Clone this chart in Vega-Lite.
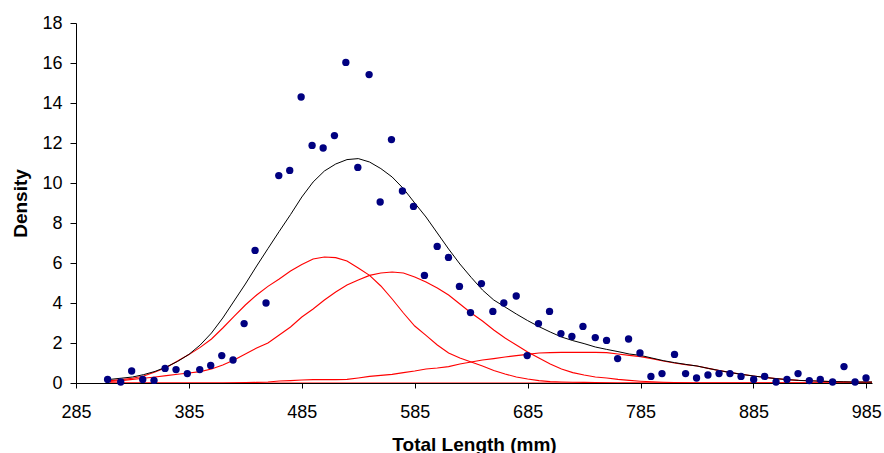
{
  "$schema": "https://vega.github.io/schema/vega-lite/v6.json",
  "width": 796,
  "height": 360,
  "autosize": {"type": "none"},
  "padding": {"left": 76, "top": 23, "right": 12, "bottom": 70},
  "background": "white",
  "config": {
    "view": {"stroke": null},
    "font": "Liberation Sans",
    "axis": {
      "grid": false,
      "domainColor": "black",
      "tickColor": "black",
      "labelColor": "black",
      "titleColor": "black",
      "labelFont": "Liberation Sans",
      "titleFont": "Liberation Sans",
      "labelFontSize": 18,
      "titleFontSize": 19,
      "titleFontWeight": "bold",
      "domainWidth": 1,
      "tickWidth": 1
    }
  },
  "datasets": {
    "dots": [
      {"x": 313, "y": 0.18}, {"x": 324.6, "y": 0.05}, {"x": 334.3, "y": 0.6}, {"x": 344.1, "y": 0.18},
      {"x": 354.1, "y": 0.13}, {"x": 363.9, "y": 0.73}, {"x": 373.6, "y": 0.67}, {"x": 383.6, "y": 0.47},
      {"x": 394.6, "y": 0.67}, {"x": 404.3, "y": 0.88}, {"x": 414.1, "y": 1.37}, {"x": 424.1, "y": 1.15},
      {"x": 433.9, "y": 2.97}, {"x": 443.6, "y": 6.63}, {"x": 453.3, "y": 4.0}, {"x": 464.6, "y": 10.37},
      {"x": 474.3, "y": 10.63}, {"x": 484.4, "y": 14.3}, {"x": 494.1, "y": 11.88}, {"x": 503.9, "y": 11.75},
      {"x": 513.9, "y": 12.37}, {"x": 524, "y": 16.03}, {"x": 534.6, "y": 10.78}, {"x": 544.6, "y": 15.42},
      {"x": 554.4, "y": 9.05}, {"x": 564.4, "y": 12.17}, {"x": 574.1, "y": 9.6}, {"x": 583.9, "y": 8.83},
      {"x": 593.6, "y": 5.38}, {"x": 604.9, "y": 6.83}, {"x": 614.9, "y": 6.28}, {"x": 624.6, "y": 4.83},
      {"x": 634.4, "y": 3.52}, {"x": 644.1, "y": 4.97}, {"x": 654.2, "y": 3.58}, {"x": 663.9, "y": 4.0},
      {"x": 674.9, "y": 4.35}, {"x": 684.6, "y": 1.37}, {"x": 694.6, "y": 2.97}, {"x": 704.4, "y": 3.58},
      {"x": 714.5, "y": 2.47}, {"x": 724.2, "y": 2.33}, {"x": 734, "y": 2.83}, {"x": 744.9, "y": 2.27},
      {"x": 754.9, "y": 2.13}, {"x": 764.7, "y": 1.22}, {"x": 774.4, "y": 2.2}, {"x": 784.5, "y": 1.5},
      {"x": 794.2, "y": 0.33}, {"x": 804, "y": 0.47}, {"x": 815.1, "y": 1.43}, {"x": 824.9, "y": 0.47},
      {"x": 834.6, "y": 0.25}, {"x": 844.7, "y": 0.4}, {"x": 854.5, "y": 0.47}, {"x": 864.2, "y": 0.47},
      {"x": 874, "y": 0.33}, {"x": 885.2, "y": 0.18}, {"x": 894.9, "y": 0.33}, {"x": 905, "y": 0.05},
      {"x": 914.7, "y": 0.18}, {"x": 924.5, "y": 0.47}, {"x": 934.5, "y": 0.12}, {"x": 944.2, "y": 0.18},
      {"x": 955.1, "y": 0.05}, {"x": 965.2, "y": 0.82}, {"x": 975, "y": 0.05}, {"x": 984.7, "y": 0.25}
    ],
    "curves": [
      {"x": 315, "total": 0.18, "c1": 0.12, "c2": 0.08, "c3": 0, "c4": 0},
      {"x": 325, "total": 0.24, "c1": 0.17, "c2": 0.12, "c3": 0, "c4": 0},
      {"x": 335, "total": 0.3, "c1": 0.24, "c2": 0.18, "c3": 0, "c4": 0},
      {"x": 345, "total": 0.42, "c1": 0.35, "c2": 0.24, "c3": 0, "c4": 0},
      {"x": 355, "total": 0.58, "c1": 0.55, "c2": 0.3, "c3": 0, "c4": 0},
      {"x": 365, "total": 0.8, "c1": 0.78, "c2": 0.37, "c3": 0, "c4": 0},
      {"x": 375, "total": 1.08, "c1": 1.1, "c2": 0.44, "c3": 0, "c4": 0},
      {"x": 385, "total": 1.43, "c1": 1.42, "c2": 0.5, "c3": 0, "c4": 0},
      {"x": 395, "total": 1.9, "c1": 1.78, "c2": 0.57, "c3": 0, "c4": 0},
      {"x": 405, "total": 2.5, "c1": 2.2, "c2": 0.7, "c3": 0, "c4": 0},
      {"x": 415, "total": 3.25, "c1": 2.75, "c2": 0.9, "c3": 0, "c4": 0},
      {"x": 425, "total": 4.1, "c1": 3.33, "c2": 1.15, "c3": 0.01, "c4": 0},
      {"x": 435, "total": 4.95, "c1": 3.9, "c2": 1.45, "c3": 0.02, "c4": 0},
      {"x": 445, "total": 5.85, "c1": 4.4, "c2": 1.75, "c3": 0.03, "c4": 0},
      {"x": 455, "total": 6.72, "c1": 4.83, "c2": 2.0, "c3": 0.05, "c4": 0},
      {"x": 465, "total": 7.58, "c1": 5.2, "c2": 2.4, "c3": 0.1, "c4": 0},
      {"x": 475, "total": 8.42, "c1": 5.6, "c2": 2.8, "c3": 0.12, "c4": 0},
      {"x": 485, "total": 9.3, "c1": 5.92, "c2": 3.3, "c3": 0.15, "c4": 0},
      {"x": 495, "total": 10.05, "c1": 6.2, "c2": 3.7, "c3": 0.17, "c4": 0},
      {"x": 505, "total": 10.6, "c1": 6.3, "c2": 4.15, "c3": 0.17, "c4": 0},
      {"x": 515, "total": 10.95, "c1": 6.27, "c2": 4.55, "c3": 0.17, "c4": 0},
      {"x": 525, "total": 11.17, "c1": 6.1, "c2": 4.9, "c3": 0.18, "c4": 0},
      {"x": 535, "total": 11.22, "c1": 5.75, "c2": 5.15, "c3": 0.25, "c4": 0},
      {"x": 545, "total": 11.05, "c1": 5.38, "c2": 5.38, "c3": 0.33, "c4": 0},
      {"x": 555, "total": 10.72, "c1": 4.85, "c2": 5.5, "c3": 0.38, "c4": 0},
      {"x": 565, "total": 10.3, "c1": 4.2, "c2": 5.55, "c3": 0.43, "c4": 0},
      {"x": 575, "total": 9.72, "c1": 3.5, "c2": 5.5, "c3": 0.52, "c4": 0},
      {"x": 585, "total": 9.0, "c1": 2.85, "c2": 5.3, "c3": 0.6, "c4": 0},
      {"x": 595, "total": 8.3, "c1": 2.38, "c2": 5.05, "c3": 0.7, "c4": 0},
      {"x": 605, "total": 7.5, "c1": 1.9, "c2": 4.75, "c3": 0.75, "c4": 0},
      {"x": 615, "total": 6.7, "c1": 1.5, "c2": 4.4, "c3": 0.82, "c4": 0},
      {"x": 625, "total": 5.95, "c1": 1.25, "c2": 3.95, "c3": 0.95, "c4": 0},
      {"x": 635, "total": 5.28, "c1": 1.05, "c2": 3.5, "c3": 1.05, "c4": 0},
      {"x": 645, "total": 4.65, "c1": 0.85, "c2": 3.1, "c3": 1.15, "c4": 0},
      {"x": 655, "total": 4.15, "c1": 0.62, "c2": 2.65, "c3": 1.22, "c4": 0},
      {"x": 665, "total": 3.8, "c1": 0.45, "c2": 2.25, "c3": 1.3, "c4": 0},
      {"x": 675, "total": 3.45, "c1": 0.3, "c2": 1.9, "c3": 1.37, "c4": 0},
      {"x": 685, "total": 3.12, "c1": 0.2, "c2": 1.55, "c3": 1.43, "c4": 0},
      {"x": 695, "total": 2.82, "c1": 0.12, "c2": 1.25, "c3": 1.5, "c4": 0},
      {"x": 705, "total": 2.55, "c1": 0.07, "c2": 0.95, "c3": 1.52, "c4": 0},
      {"x": 715, "total": 2.3, "c1": 0.05, "c2": 0.7, "c3": 1.53, "c4": 0},
      {"x": 725, "total": 2.12, "c1": 0.04, "c2": 0.52, "c3": 1.53, "c4": 0},
      {"x": 735, "total": 1.97, "c1": 0.03, "c2": 0.4, "c3": 1.53, "c4": 0},
      {"x": 745, "total": 1.8, "c1": 0.02, "c2": 0.3, "c3": 1.53, "c4": 0},
      {"x": 755, "total": 1.68, "c1": 0.01, "c2": 0.25, "c3": 1.52, "c4": 0},
      {"x": 765, "total": 1.57, "c1": 0, "c2": 0.18, "c3": 1.45, "c4": 0},
      {"x": 775, "total": 1.45, "c1": 0, "c2": 0.13, "c3": 1.38, "c4": 0},
      {"x": 785, "total": 1.38, "c1": 0, "c2": 0.09, "c3": 1.32, "c4": 0},
      {"x": 795, "total": 1.25, "c1": 0, "c2": 0.06, "c3": 1.22, "c4": 0},
      {"x": 805, "total": 1.12, "c1": 0, "c2": 0.04, "c3": 1.1, "c4": 0},
      {"x": 815, "total": 1.02, "c1": 0, "c2": 0.02, "c3": 1.0, "c4": 0},
      {"x": 825, "total": 0.93, "c1": 0, "c2": 0.01, "c3": 0.92, "c4": 0},
      {"x": 835, "total": 0.85, "c1": 0, "c2": 0, "c3": 0.85, "c4": 0},
      {"x": 845, "total": 0.73, "c1": 0, "c2": 0, "c3": 0.73, "c4": 0},
      {"x": 855, "total": 0.62, "c1": 0, "c2": 0, "c3": 0.62, "c4": 0},
      {"x": 865, "total": 0.52, "c1": 0, "c2": 0, "c3": 0.52, "c4": 0},
      {"x": 875, "total": 0.43, "c1": 0, "c2": 0, "c3": 0.43, "c4": 0},
      {"x": 885, "total": 0.35, "c1": 0, "c2": 0, "c3": 0.35, "c4": 0},
      {"x": 895, "total": 0.28, "c1": 0, "c2": 0, "c3": 0.28, "c4": 0},
      {"x": 905, "total": 0.22, "c1": 0, "c2": 0, "c3": 0.22, "c4": 0},
      {"x": 915, "total": 0.17, "c1": 0, "c2": 0, "c3": 0.17, "c4": 0},
      {"x": 925, "total": 0.13, "c1": 0, "c2": 0, "c3": 0.13, "c4": 0},
      {"x": 935, "total": 0.11, "c1": 0, "c2": 0, "c3": 0.11, "c4": 0},
      {"x": 945, "total": 0.09, "c1": 0, "c2": 0, "c3": 0.09, "c4": 0},
      {"x": 955, "total": 0.07, "c1": 0, "c2": 0, "c3": 0.07, "c4": 0},
      {"x": 965, "total": 0.06, "c1": 0, "c2": 0, "c3": 0.06, "c4": 0},
      {"x": 975, "total": 0.05, "c1": 0, "c2": 0, "c3": 0.05, "c4": 0},
      {"x": 985, "total": 0.05, "c1": 0, "c2": 0, "c3": 0.05, "c4": 0},
      {"x": 990, "total": 0.05, "c1": 0, "c2": 0, "c3": 0.05, "c4": 0}
    ]
  },
  "encoding": {
    "x": {
      "type": "quantitative",
      "scale": {"domain": [285, 990], "nice": false, "zero": false},
      "axis": {
        "title": "Total Length (mm)",
        "values": [285, 385, 485, 585, 685, 785, 885, 985],
        "tickSize": 5,
        "labelPadding": 15,
        "labelFlush": false,
        "labelOverlap": false,
        "titleBaseline": "alphabetic",
        "titleY": 67,
        "titleX": 398
      }
    },
    "y": {
      "type": "quantitative",
      "scale": {"domain": [0, 18], "nice": false},
      "axis": {
        "title": "Density",
        "values": [0, 2, 4, 6, 8, 10, 12, 14, 16, 18],
        "tickSize": 6,
        "labelPadding": 8,
        "titleBaseline": "alphabetic",
        "titleAngle": -90,
        "titleAlign": "center",
        "titleX": -50,
        "titleY": 180
      }
    }
  },
  "layer": [
    {
      "data": {"name": "curves"},
      "transform": [{"fold": ["c1", "c2", "c3", "c4"], "as": ["comp", "dens"]}],
      "mark": {"type": "line", "color": "#FF0000", "strokeWidth": 1.1, "clip": true},
      "encoding": {
        "x": {"field": "x", "type": "quantitative"},
        "y": {"field": "dens", "type": "quantitative"},
        "detail": {"field": "comp"}
      }
    },
    {
      "data": {"name": "curves"},
      "mark": {"type": "line", "color": "#000000", "strokeWidth": 1, "clip": true},
      "encoding": {
        "x": {"field": "x", "type": "quantitative"},
        "y": {"field": "total", "type": "quantitative"}
      }
    },
    {
      "data": {"name": "dots"},
      "mark": {"type": "point", "filled": true, "color": "#000080", "opacity": 1, "size": 54, "shape": "circle"},
      "encoding": {
        "x": {"field": "x", "type": "quantitative"},
        "y": {"field": "y", "type": "quantitative"}
      }
    }
  ]
}
